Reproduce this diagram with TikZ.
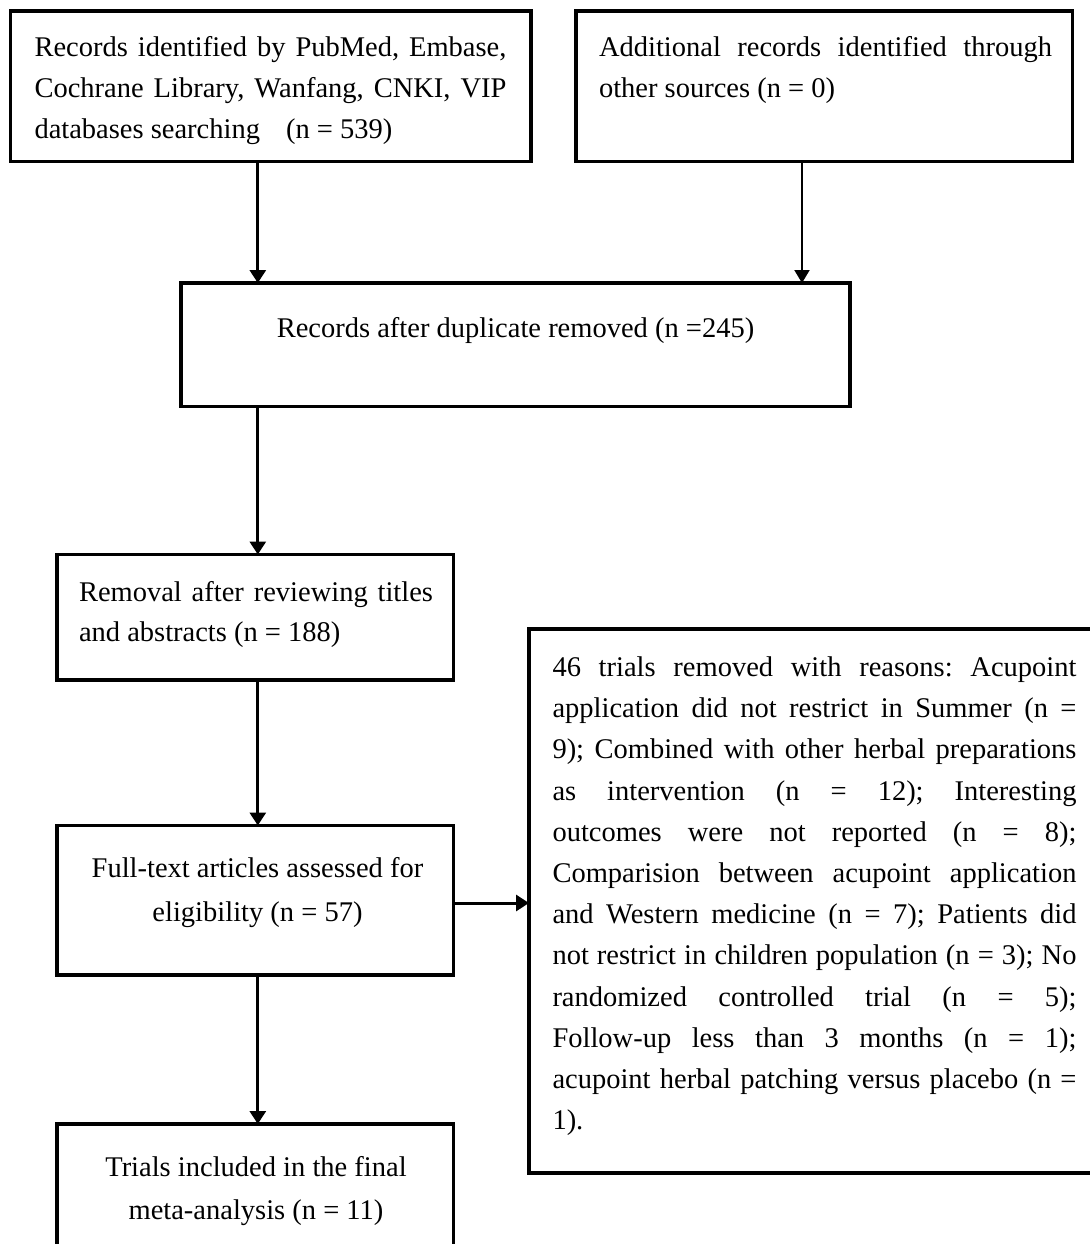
\documentclass[tikz,border=0pt]{standalone}
\usepackage{fontspec}
\setmainfont{Liberation Serif}
\usetikzlibrary{arrows.meta}
\newcommand\jline[1]{\makebox[\linewidth][s]{#1}}
\frenchspacing
\begin{document}
\begin{tikzpicture}[x=1pt,y=-1pt,
  box/.style={draw=black, line width=3.2pt, rectangle, inner sep=0pt, outer sep=0pt, anchor=north west},
  txt/.style={inner sep=0pt, outer sep=0pt, font=\fontsize{28.5}{41}\selectfont},
  arr/.style={line width=3pt, -{Triangle[width=16pt,length=13pt]}},
  thinarr/.style={line width=2pt, -{Triangle[width=15pt,length=13pt]}}]
\useasboundingbox (0,0) rectangle (1089,1244);

% boxes
\node[box, minimum width=520.5pt, minimum height=150.5pt] (b1) at (10.5,11) {};
\node[box, minimum width=496.5pt, minimum height=150.5pt] (b2) at (576,11) {};
\node[box, minimum width=669pt, minimum height=123.5pt] (b3) at (181,283) {};
\node[box, minimum width=396.5pt, minimum height=125.5pt] (b4) at (57,554.5) {};
\node[box, minimum width=396.5pt, minimum height=149.5pt] (b5) at (57,825.5) {};
\node[box, minimum width=396.5pt, minimum height=124pt] (b6) at (57,1124) {};
\node[box, minimum width=566pt, minimum height=544pt] (b7) at (529,629) {};

% texts
\node[txt, anchor=base west] (t1) at (34.5,56.7) {\parbox[t]{472pt}{\fontsize{28.5}{40.7}\selectfont
  \jline{Records identified by PubMed, Embase,}\\
  \jline{Cochrane Library, Wanfang, CNKI, VIP}\\
  databases searching\hspace{26pt}(n = 539)}};
\node[txt, anchor=base west] (t2) at (599,56.7) {\parbox[t]{453pt}{\fontsize{28.5}{40.7}\selectfont
  \jline{Additional records identified through}\\
  other sources (n = 0)}};
\node[txt, anchor=base] (t3) at (515.5,337.5) {Records after duplicate removed (n =245)};
\node[txt, anchor=base west] (t4) at (79,601) {\parbox[t]{354pt}{\fontsize{28.5}{40.5}\selectfont
  \jline{Removal after reviewing titles}\\
  and abstracts (n = 188)}};
\node[txt, anchor=base] (t5) at (257.5,877.5) {\parbox[t]{400pt}{\centering\fontsize{28.5}{43.5}\selectfont
  Full-text articles assessed for\\
  eligibility (n = 57)}};
\node[txt, anchor=base] (t6) at (256,1176) {\parbox[t]{400pt}{\centering\fontsize{28.5}{43.3}\selectfont
  Trials included in the final\\
  meta-analysis (n = 11)}};
\node[txt, anchor=base west] (t7) at (552.5,676.5) {\parbox[t]{524pt}{\fontsize{28.5}{41.2}\selectfont
  \jline{46 trials removed with reasons: Acupoint}\\
  \jline{application did not restrict in Summer (n =}\\
  \jline{9); Combined with other herbal preparations}\\
  \jline{as intervention (n = 12); Interesting}\\
  \jline{outcomes were not reported (n = 8);}\\
  \jline{Comparision between acupoint application}\\
  \jline{and Western medicine (n = 7); Patients did}\\
  \jline{not restrict in children population (n = 3); No}\\
  \jline{randomized controlled trial (n = 5);}\\
  \jline{Follow-up less than 3 months (n = 1);}\\
  \jline{acupoint herbal patching versus placebo (n =}\\
  1).}};

% connector guides
\coordinate (cl) at (257.8,0);
\coordinate (cr) at (802,0);
\coordinate (rw) at (0,903);

% connectors
\draw[arr] (cl |- b1.south) -- (cl |- b3.north);
\draw[thinarr] (cr |- b2.south) -- (cr |- b3.north);
\draw[arr] (cl |- b3.south) -- (cl |- b4.north);
\draw[arr] (cl |- b4.south) -- (cl |- b5.north);
\draw[arr] (cl |- b5.south) -- (cl |- b6.north);
\draw[arr] (b5.east |- rw) -- (b7.west |- rw);
\end{tikzpicture}
\end{document}
